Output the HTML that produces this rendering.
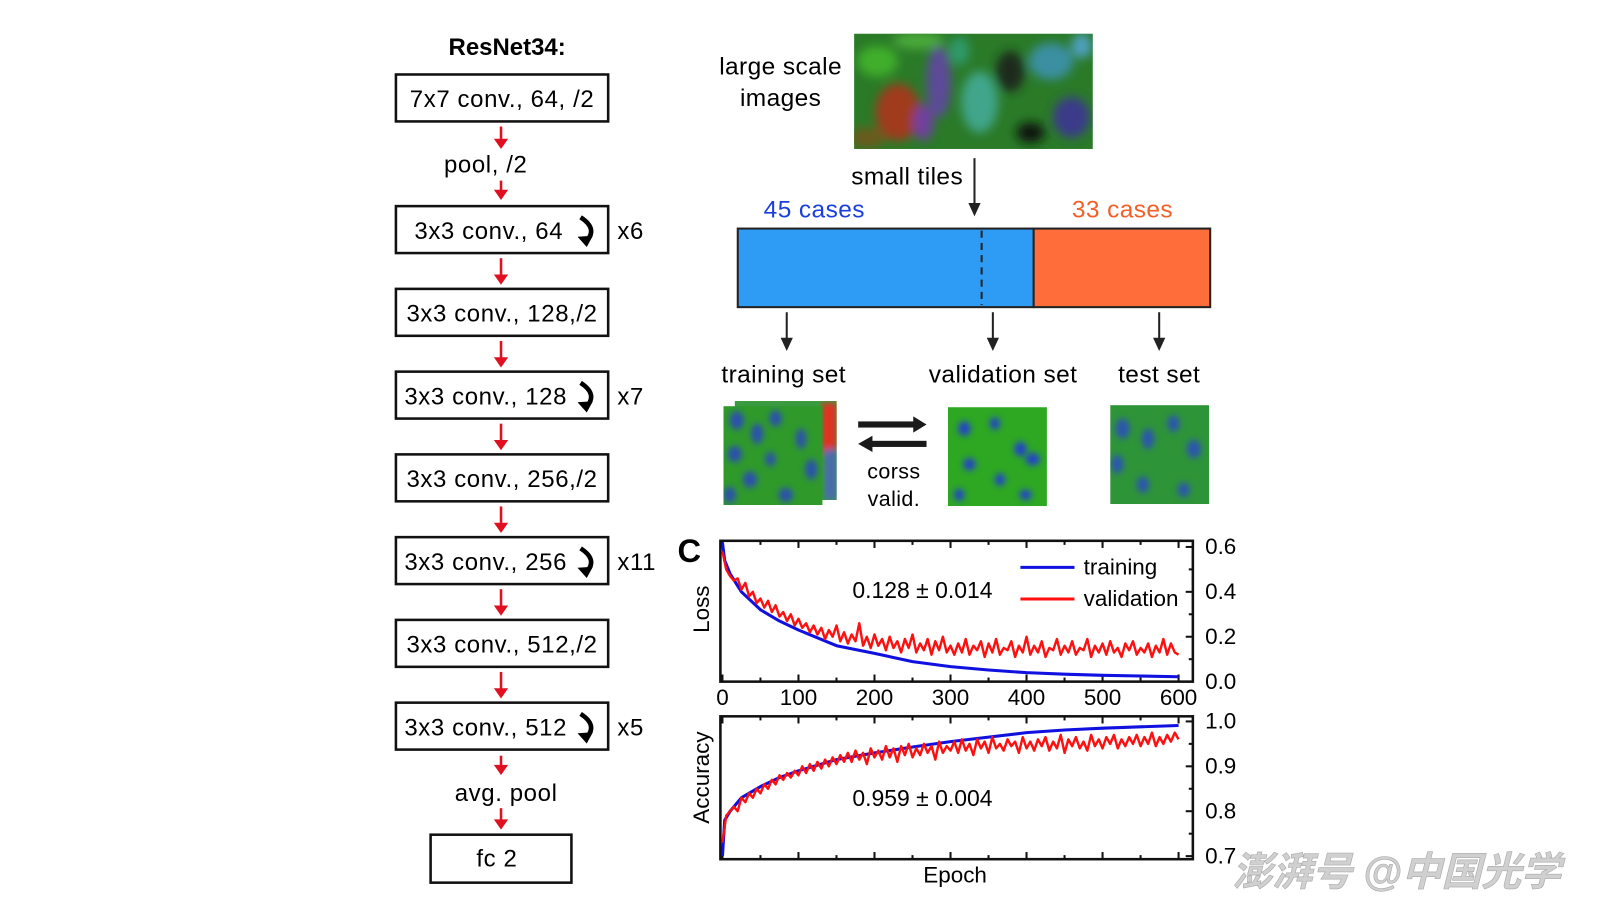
<!DOCTYPE html>
<html><head><meta charset="utf-8"><style>
html,body{margin:0;padding:0;background:#fff;}
svg{display:block;font-family:"Liberation Sans","Noto Sans CJK SC",sans-serif;}
</style></head><body>
<svg id="fig" width="1600" height="900" viewBox="0 0 1568 882" xmlns="http://www.w3.org/2000/svg">
<defs>
<filter id="blur3"><feGaussianBlur stdDeviation="3"/></filter>
<filter id="blur6"><feGaussianBlur stdDeviation="5"/></filter>
<clipPath id="clipBig"><rect x="837" y="33" width="234" height="113"/></clipPath>
<clipPath id="clipTr"><rect x="709" y="398" width="97" height="97"/></clipPath>
<clipPath id="clipTrB"><rect x="720" y="393" width="100" height="97"/></clipPath>
<clipPath id="clipVa"><rect x="929" y="399" width="97" height="97"/></clipPath>
<clipPath id="clipTe"><rect x="1088" y="397" width="97" height="97"/></clipPath>
<clipPath id="clipTop"><rect x="707" y="530" width="461" height="138"/></clipPath>
<clipPath id="clipBot"><rect x="707" y="702" width="461" height="140"/></clipPath>
</defs>

<g id="resnet" font-size="23.5" letter-spacing="0.6" fill="#000">
<text x="497" y="54" text-anchor="middle" font-weight="bold" letter-spacing="0">ResNet34:</text>
</g>

<g font-size="24" letter-spacing="0.4">
<text x="765" y="73" text-anchor="middle">large scale</text>
<text x="765" y="104" text-anchor="middle">images</text>
<g clip-path="url(#clipBig)">
<rect x="837" y="33" width="234" height="113" fill="#2a7a28"/>
<g filter="url(#blur6)">
<ellipse cx="880" cy="110" rx="22" ry="28" fill="#a03a1c"/>
<ellipse cx="860" cy="60" rx="20" ry="15" fill="#3fae2a"/>
<ellipse cx="920" cy="80" rx="12" ry="35" fill="#5d4a9a"/>
<ellipse cx="960" cy="100" rx="18" ry="30" fill="#3fa58a"/>
<ellipse cx="990" cy="70" rx="14" ry="20" fill="#1b2a1a"/>
<ellipse cx="1030" cy="60" rx="22" ry="18" fill="#3a8fa0"/>
<ellipse cx="1050" cy="115" rx="18" ry="20" fill="#3a3a8a"/>
<ellipse cx="900" cy="40" rx="25" ry="8" fill="#4caa3a"/>
<ellipse cx="1010" cy="130" rx="14" ry="10" fill="#101810"/>
<ellipse cx="850" cy="135" rx="18" ry="10" fill="#6a5a1a"/>
<ellipse cx="940" cy="50" rx="10" ry="14" fill="#2f9a6a"/>
<ellipse cx="1060" cy="45" rx="10" ry="12" fill="#50a0c0"/>
<ellipse cx="905" cy="120" rx="10" ry="18" fill="#7040a0"/>
</g>
</g>
<text x="889" y="181" text-anchor="middle">small tiles</text>
<line x1="955" y1="155" x2="955" y2="205" stroke="#222" stroke-width="2"/>
<path d="M949,199 L955,212 L961,199 Z" fill="#222"/>
<text x="798" y="213" text-anchor="middle" fill="#1b3fdc">45 cases</text>
<text x="1100" y="213" text-anchor="middle" fill="#f2602a">33 cases</text>
<rect x="723" y="224" width="290" height="77" fill="#2e9bf5" stroke="#222" stroke-width="2"/>
<rect x="1013" y="224" width="173" height="77" fill="#ff6e3a" stroke="#222" stroke-width="2"/>
<line x1="962" y1="226" x2="962" y2="299" stroke="#222" stroke-width="2" stroke-dasharray="7,5"/>
<g stroke="#222" stroke-width="2">
<line x1="771" y1="306" x2="771" y2="337"/><line x1="973" y1="306" x2="973" y2="337"/><line x1="1136" y1="306" x2="1136" y2="337"/>
</g>
<g fill="#222"><path d="M765,331 L771,344 L777,331Z"/><path d="M967,331 L973,344 L979,331Z"/><path d="M1130,331 L1136,344 L1142,331Z"/></g>
<text x="768" y="375" text-anchor="middle">training set</text>
<text x="983" y="375" text-anchor="middle">validation set</text>
<text x="1136" y="375" text-anchor="middle">test set</text>

<g clip-path="url(#clipTrB)">
<rect x="720" y="393" width="100" height="97" fill="#3a9a40"/>
<g filter="url(#blur3)"><rect x="805" y="395" width="15" height="50" fill="#e03020"/><rect x="808" y="440" width="12" height="50" fill="#4a6ab0"/></g>
</g>
<g clip-path="url(#clipTr)">
<rect x="709" y="398" width="97" height="97" fill="#2f9a2a"/>
<g fill="#2a4fb0" filter="url(#blur3)">
<ellipse cx="722" cy="412" rx="7" ry="9"/><ellipse cx="742" cy="425" rx="6" ry="10"/><ellipse cx="720" cy="445" rx="7" ry="8"/>
<ellipse cx="760" cy="410" rx="6" ry="8"/><ellipse cx="785" cy="430" rx="5" ry="10"/><ellipse cx="735" cy="470" rx="7" ry="8"/>
<ellipse cx="795" cy="460" rx="6" ry="10"/><ellipse cx="770" cy="485" rx="7" ry="7"/><ellipse cx="715" cy="485" rx="6" ry="8"/><ellipse cx="755" cy="450" rx="5" ry="7"/>
</g></g>
<g fill="#1a1a1a">
<rect x="841" y="413" width="56" height="6"/><path d="M895,408 L908,416 L895,424Z"/>
<rect x="853" y="432" width="55" height="6"/><path d="M855,427 L841,435 L855,443Z"/>
</g>
<text x="876" y="469" text-anchor="middle" font-size="21">corss</text>
<text x="876" y="496" text-anchor="middle" font-size="21">valid.</text>
<g clip-path="url(#clipVa)">
<rect x="929" y="399" width="97" height="97" fill="#2ea822"/>
<g fill="#2240d0" filter="url(#blur3)">
<ellipse cx="945" cy="420" rx="6" ry="7"/><ellipse cx="975" cy="415" rx="5" ry="6"/><ellipse cx="1000" cy="440" rx="6" ry="7"/>
<ellipse cx="950" cy="455" rx="6" ry="6"/><ellipse cx="980" cy="470" rx="5" ry="6"/><ellipse cx="1012" cy="450" rx="7" ry="6"/>
<ellipse cx="940" cy="485" rx="5" ry="6"/><ellipse cx="1005" cy="485" rx="6" ry="5"/>
</g></g>
<g clip-path="url(#clipTe)">
<rect x="1088" y="397" width="97" height="97" fill="#2e9438"/>
<g fill="#2a55b0" filter="url(#blur3)">
<ellipse cx="1100" cy="420" rx="7" ry="10"/><ellipse cx="1125" cy="430" rx="6" ry="10"/><ellipse cx="1095" cy="455" rx="6" ry="9"/>
<ellipse cx="1150" cy="415" rx="6" ry="8"/><ellipse cx="1170" cy="440" rx="7" ry="9"/><ellipse cx="1120" cy="475" rx="6" ry="8"/>
<ellipse cx="1160" cy="480" rx="6" ry="7"/>
</g></g>
</g>

<g id="chart" font-size="22">
<text x="664" y="551" font-size="32" font-weight="bold">C</text>
<text transform="translate(695,597) rotate(-90)" text-anchor="middle" font-size="22">Loss</text>
<text transform="translate(695,762) rotate(-90)" text-anchor="middle" font-size="22">Accuracy</text>
<text x="936" y="865" text-anchor="middle" font-size="22">Epoch</text>
<text x="904" y="586" text-anchor="middle" font-size="22.5">0.128 ± 0.014</text>
<text x="904" y="790" text-anchor="middle" font-size="22.5">0.959 ± 0.004</text>
</g>

<text x="1208" y="868" font-size="39" font-style="italic" font-weight="bold" fill="#d0d0d0" stroke="#aaa" stroke-width="0.6">澎湃号 @中国光学</text>
</svg>
<script>
const NS='http://www.w3.org/2000/svg';
const blockLabels=['7x7 conv., 64, /2','3x3 conv., 64','3x3 conv., 128,/2','3x3 conv., 128','3x3 conv., 256,/2','3x3 conv., 256','3x3 conv., 512,/2','3x3 conv., 512'];
const blockRepeats=['','x6','','x7','','x11','','x5'];
function mk(tag,attrs,parent){const e=document.createElementNS(NS,tag);for(const k in attrs)e.setAttribute(k,attrs[k]);parent.appendChild(e);return e;}
const rn=document.getElementById('resnet');
function redArrow(y1,y2){
  const l=mk('line',{x1:491,y1:y1,x2:491,y2:y2-8,stroke:'#e01020','stroke-width':2.5},rn);
  
  
  const p=mk('path',{d:`M484,${y2-10} L491,${y2} L498,${y2-10}Z`,fill:'#e01020'},rn);
  
  
}
blockLabels.forEach((lab,i)=>{
  const top=i===0?73:202+(i-1)*81.1;
  const r=mk('rect',{x:388,y:top,width:208,height:46,fill:'#fff',stroke:'#111','stroke-width':2.5},rn);
  
  
  const rep=blockRepeats[i]!=='';
  const t=mk('text',{x:rep?(i===1?479:476):492,y:top+32,'text-anchor':'middle'},rn);
  t.textContent=lab;
  
  
  if(rep){
    const a=mk('path',{d:`M569,${top+11} Q586,${top+22} 575,${top+34}`,fill:'none',stroke:'#000','stroke-width':4.5},rn);
    
    
    mk('path',{d:`M566,${top+30} L575,${top+40} L581,${top+29}Z`,fill:'#000'},rn);
    const x=mk('text',{x:605,y:top+32},rn);
    x.textContent=blockRepeats[i];
    
    
  }
  if(i===0){redArrow(124,146);const p=mk('text',{x:476,y:169,'text-anchor':'middle'},rn);p.textContent='pool, /2';redArrow(177,196);}
  else if(i<7){redArrow(top+51,top+77);}
  else{redArrow(top+52,top+71);const p=mk('text',{x:496,y:785,'text-anchor':'middle'},rn);p.textContent='avg. pool';redArrow(792,813);}
});
const fc=mk('rect',{x:422,y:818,width:138,height:47,fill:'#fff',stroke:'#111','stroke-width':2.5},rn);


const fct=mk('text',{x:487,y:849,'text-anchor':'middle'},rn);fct.textContent='fc 2';


</script>
<script>
const epochTicks=[0,100,200,300,400,500,600];
const lossTicks=['0.0','0.2','0.4','0.6'];
const lossTickVals=[0,0.2,0.4,0.6];
const accTicks=['0.7','0.8','0.9','1.0'];
const accTickVals=[0.7,0.8,0.9,1.0];
const trainEpochs=[0,3,10,25,50,75,100,150,200,250,300,350,400,450,500,550,600];
const trainLoss=[0.62,0.54,0.48,0.40,0.32,0.27,0.23,0.16,0.126,0.089,0.067,0.052,0.04,0.033,0.028,0.025,0.022];
const trainAcc=[0.70,0.78,0.80,0.83,0.855,0.875,0.89,0.915,0.93,0.943,0.955,0.965,0.975,0.981,0.985,0.988,0.991];
const valStep=5;
const valLoss=[0.58,0.50,0.47,0.45,0.46,0.41,0.44,0.38,0.40,0.35,0.37,0.33,0.36,0.31,0.34,0.29,0.31,0.27,0.30,0.25,0.28,0.24,0.26,0.22,0.25,0.21,0.24,0.19,0.23,0.20,0.25,0.18,0.22,0.17,0.21,0.18,0.26,0.16,0.20,0.15,0.21,0.16,0.19,0.14,0.20,0.15,0.18,0.13,0.19,0.15,0.21,0.13,0.17,0.14,0.19,0.12,0.18,0.14,0.20,0.13,0.16,
0.12,0.17,0.13,0.19,0.12,0.16,0.14,0.18,0.11,0.17,0.13,0.19,0.12,0.15,0.14,0.18,0.11,0.16,0.13,0.20,0.12,0.16,0.13,0.18,0.11,0.15,0.14,0.19,0.12,0.16,0.13,0.18,0.12,0.15,0.14,0.19,0.11,0.16,0.13,0.17,0.12,0.18,0.13,0.15,0.11,0.17,0.14,0.18,0.12,0.15,0.13,0.17,0.11,0.16,0.13,0.19,0.12,0.17,0.13,0.12];
const valAcc=[0.73,0.79,0.80,0.81,0.80,0.83,0.82,0.84,0.83,0.85,0.84,0.86,0.85,0.87,0.86,0.88,0.87,0.885,0.875,0.89,0.88,0.90,0.885,0.905,0.89,0.91,0.895,0.915,0.90,0.92,0.905,0.925,0.91,0.93,0.91,0.935,0.915,0.93,0.905,0.94,0.92,0.935,0.915,0.945,0.92,0.94,0.91,0.945,0.925,0.95,0.92,0.94,0.925,0.95,0.93,0.945,0.915,0.955,0.93,0.945,0.935,
0.955,0.93,0.96,0.935,0.95,0.925,0.96,0.94,0.955,0.93,
0.965,0.94,0.95,0.935,0.96,0.945,0.955,0.93,0.965,0.94,
0.955,0.935,0.96,0.945,0.965,0.935,0.955,0.94,0.97,0.93,
0.96,0.945,0.965,0.94,0.955,0.935,0.97,0.945,0.96,0.94,
0.965,0.95,0.97,0.94,0.96,0.945,0.965,0.95,0.97,0.945,
0.965,0.95,0.975,0.945,0.965,0.95,0.97,0.955,0.975,0.96];
const seriesNames=['training','validation'];

const X=e=>708+e*(447/600);
const YL=v=>668-v*220;
const YA=v=>839-(v-0.7)*440;
const ch=document.getElementById('chart');
function el(tag,attrs){const e=document.createElementNS(NS,tag);for(const k in attrs)e.setAttribute(k,attrs[k]);ch.appendChild(e);return e;}

function panel(top,bot,yfun,tickVals,tickLabels,name){
  const f=el('rect',{x:706,y:top,width:463,height:bot-top,fill:'none',stroke:'#111','stroke-width':2.5});
  
  
  for(let e=0;e<=600;e+=50){
    const len=e%100===0?7:4;
    el('line',{x1:X(e),y1:bot,x2:X(e),y2:bot-len,stroke:'#111','stroke-width':2});
    el('line',{x1:X(e),y1:top,x2:X(e),y2:top+len,stroke:'#111','stroke-width':2});
  }
  tickVals.forEach((v,i)=>{
    const y=yfun(v);
    el('line',{x1:1169,y1:y,x2:1162,y2:y,stroke:'#111','stroke-width':2});
    if(i<tickVals.length-1){const ym=(y+yfun(tickVals[i+1]))/2;el('line',{x1:1169,y1:ym,x2:1165,y2:ym,stroke:'#111','stroke-width':2});}
    const t=el('text',{x:1181,y:y+7});
    t.textContent=tickLabels[i];
    
    
  });
}
panel(530,668,YL,lossTickVals,lossTicks,'loss');
panel(702,842,YA,accTickVals,accTicks,'accuracy');
epochTicks.forEach(e=>{
  const t=el('text',{x:X(e),y:691,'text-anchor':'middle'});
  t.textContent=String(e);
  
  
});
function line(xs,ys,yfun,color,clip,name,w){
  const pts=xs.map((x,i)=>X(x).toFixed(1)+','+yfun(ys[i]).toFixed(1)).join(' ');
  const p=el('polyline',{points:pts,fill:'none',stroke:color,'stroke-width':w,'stroke-linejoin':'round','clip-path':'url(#'+clip+')'});
  
  
}
const valEpochs=valLoss.map((_,i)=>i*valStep);
line(trainEpochs,trainLoss,YL,'#1010e0','clipTop','training-loss-line',3);
line(valEpochs,valLoss,YL,'#ff1010','clipTop','validation-loss-line',2.4);
line(trainEpochs,trainAcc,YA,'#1010e0','clipBot','training-accuracy-line',3);
line(valAcc.map((_,i)=>i*valStep),valAcc,YA,'#ff1010','clipBot','validation-accuracy-line',2.4);
[['#1010e0',556],['#ff1010',587]].forEach((c,i)=>{
  const l=el('line',{x1:1000,y1:c[1],x2:1053,y2:c[1],stroke:c[0],'stroke-width':3});
  
  
  const t=el('text',{x:1062,y:c[1]+7});
  t.textContent=seriesNames[i];
  
  
});
</script>
</body></html>
